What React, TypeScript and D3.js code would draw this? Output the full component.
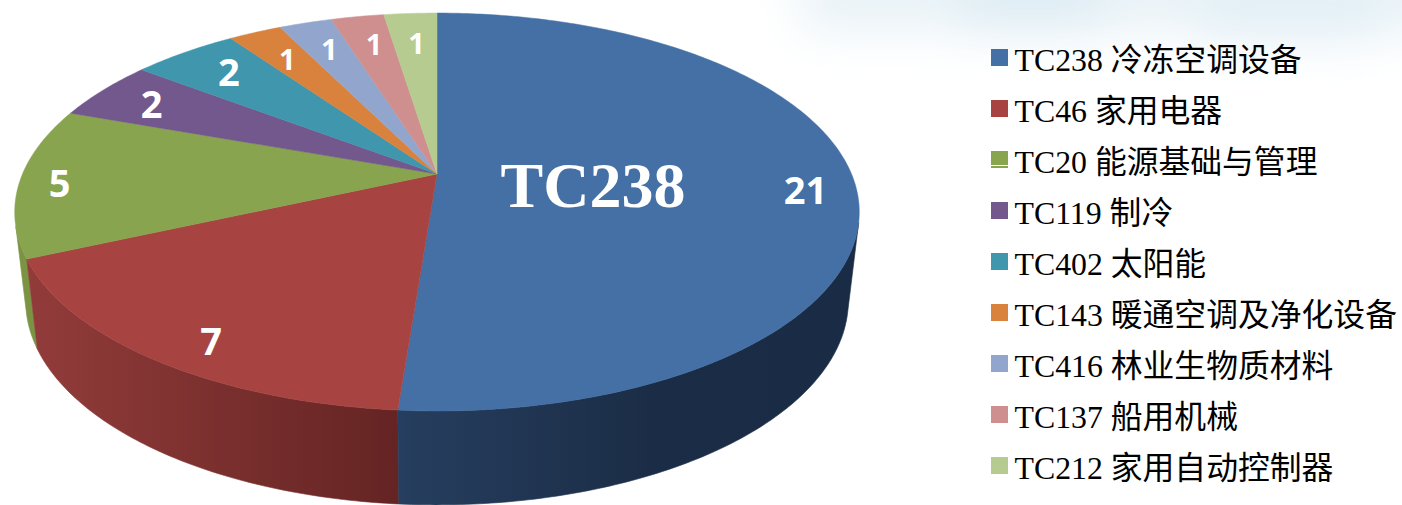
import React from "react"
import * as d3 from "d3"

const categories = ["TC238 冷冻空调设备", "TC46 家用电器", "TC20 能源基础与管理", "TC119 制冷", "TC402 太阳能", "TC143 暖通空调及净化设备", "TC416 林业生物质材料", "TC137 船用机械", "TC212 家用自动控制器"]
const values = [21, 7, 5, 2, 2, 1, 1, 1, 1]
const colors = ["#4470a5", "#a74442", "#88a44e", "#72588c", "#4096ad", "#d8823d", "#92a6cd", "#ce8f8e", "#b6cb90"]
// wall gradients of the three slices that reach the front, left to right on screen
const wallStops = [
	[[0, "#263e5f"], [0.55, "#1b2d46"], [1, "#1a2c45"]],
	[[0, "#923c3a"], [1, "#642423"]],
	[[0, "#7a9444"], [1, "#7a9444"]],
]
const labelNudge = [[10, 10], [11, 12], [-19, 3], [5, 3], [13, 5], [10, 10], [8, 8], [7, 9], [3, 11]]

const cx = 437, cy = 174
const R = 414.5, k = 191.7, c = -0.191
// bottom rim of the wall: a bit narrower and a bit taller than the top face
const wallDrop = 88, wallSx = 0.974, wallSy = 1.025

const pie = d3.pie<number>().sort(null)
const slices = pie(values)

// flat circle to screen, the pie is seen in perspective
const project = (a: number, f = 1, sx = 1, sy = 1, drop = 0): [number, number] => {
	const u = Math.sin(a) * f
	const v = -Math.cos(a) * f
	const w = 1 + c * v
	return [cx + sx * R * u / w, cy + drop + sy * k * v / w]
}

const line = d3.line()

const arcPoints = (a0: number, a1: number, sx = 1, sy = 1, drop = 0) => {
	const n = Math.max(2, Math.ceil(Math.abs(a1 - a0) * 80))
	return d3.range(n + 1).map(i => project(a0 + (a1 - a0) * i / n, 1, sx, sy, drop))
}

const topPath = (d: d3.PieArcDatum<number>) =>
	line([[cx, cy], ...arcPoints(d.startAngle, d.endAngle)]) + "Z"

const wallPath = (a0: number, a1: number) =>
	line([...arcPoints(a0, a1), ...arcPoints(a0, a1, wallSx, wallSy, wallDrop).reverse()]) + "Z"

// front of the wall only, the top face hides the rest
const wallStart = 1.815, wallEnd = 4.45

export default function App() {
	return (
		<svg width={1402} height={505} style={{ position: "absolute", left: 0, top: 0 }}>
			<defs>
				<filter id="blur" filterUnits="userSpaceOnUse" x={500} y={-150} width={1100} height={450}>
					<feGaussianBlur stdDeviation="24" />
				</filter>
				{wallStops.map((stops, i) => (
					<linearGradient key={i} id={`wall${i}`} x1="0" x2="1" y1="0" y2="0">
						{stops.map((s, j) => <stop key={j} offset={s[0]} stopColor={s[1] as string} />)}
					</linearGradient>
				))}
			</defs>
			<rect width={1402} height={505} fill="#fff" />
			<g filter="url(#blur)">
				<rect x={800} y={-40} width={640} height={70} fill="#e8f2f7" />
				<rect x={960} y={-30} width={140} height={60} fill="#dcebf3" />
				<rect x={1200} y={-30} width={180} height={70} fill="#e2eff6" />
			</g>
			{slices.slice(0, 3).reverse().map((d, j) => {
				const i = 2 - j
				const a0 = Math.max(d.startAngle, wallStart)
				const a1 = Math.min(d.endAngle, wallEnd)
				return <path key={i} d={wallPath(a1, a0)} fill={`url(#wall${i})`} stroke={`url(#wall${i})`} strokeWidth={0.6} />
			})}
			{slices.map((d, i) => (
				<path key={i} d={topPath(d)} fill={colors[i]} stroke={colors[i]} strokeWidth={0.5} />
			))}
			{slices.map((d, i) => {
				const mid = (d.startAngle + d.endAngle) / 2
				const [x, y] = project(mid, 0.86)
				return (
					<text key={i} x={x + labelNudge[i][0]} y={y + labelNudge[i][1]} dy="0.36em" textAnchor="middle" fill="#fff"
						fontFamily="'Open Sans', sans-serif" fontWeight={700} fontSize={i < 5 ? 38 : 29}>{d.value}</text>
				)
			})}
			<text x={593} y={207} textAnchor="middle" fill="#fff" fontFamily="'Liberation Serif', serif" fontWeight={700} fontSize={64}>TC238</text>
			{categories.map((name, i) => (
				<g key={i} transform={`translate(991,${49 + i * 51})`}>
					<rect width={17} height={17} fill={colors[i]} />
					{i === 2 && <rect y={14} width={17} height={1} fill="#fff" />}
					<text x={23.5} y={22} fill="#000" fontFamily="'Liberation Serif', 'Noto Sans CJK SC', serif" fontSize={31.8}>{name}</text>
				</g>
			))}
		</svg>
	)
}
